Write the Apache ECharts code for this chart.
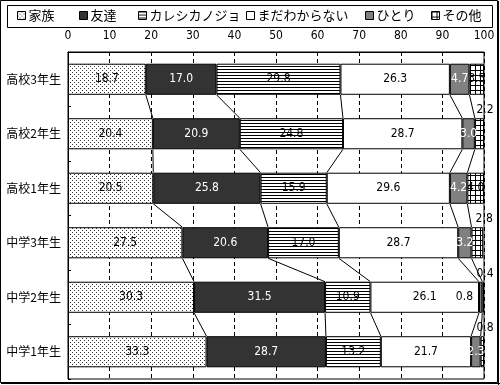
<!DOCTYPE html>
<html><head><meta charset="utf-8">
<script src="https://cdn.jsdelivr.net/npm/echarts@6/dist/echarts.min.js"></script>
<style>html,body{margin:0;padding:0;background:#fff}#c{width:500px;height:385px}</style>
</head><body><div id="c"></div>
<script>
// ---- data ----
const categories = ['高校3年生','高校2年生','高校1年生','中学3年生','中学2年生','中学1年生'];
const seriesNames = ['家族','友達','カレシカノジョ','まだわからない','ひとり','その他'];
const family  = [18.7, 20.4, 20.5, 27.5, 30.3, 33.3];
const friends = [17.0, 20.9, 25.8, 20.6, 31.5, 28.7];
const partner = [29.8, 24.8, 15.9, 17.0, 10.9, 13.2];
const unknown = [26.3, 28.7, 29.6, 28.7, 26.1, 21.7];
const alone   = [4.7, 3.0, 4.2, 3.2, 0.8, 2.3];
const other   = [3.5, 2.2, 4.0, 2.8, 0.4, 0.8];
const xMin = 0, xMax = 100, xStep = 10;

// ---- styling ----
const NUM = "'Liberation Sans Narrow','DejaVu Sans Condensed','Liberation Sans',sans-serif";
const JP = "'Noto Sans CJK JP',sans-serif";
function pat(w, h, draw) {
  const c = document.createElement('canvas'); c.width = w; c.height = h;
  const g = c.getContext('2d'); g.fillStyle = '#fff'; g.fillRect(0, 0, w, h);
  draw(g); return { image: c, repeat: 'repeat' };
}
const fills = [
  pat(4, 4, g => { g.fillStyle = '#333'; g.fillRect(0, 0, 1, 1); g.fillRect(2, 2, 1, 1); }),
  '#333333',
  pat(4, 3, g => { g.fillStyle = '#000'; g.fillRect(0, 0, 4, 1); }),
  '#ffffff',
  '#808080',
  pat(5, 5, g => { g.fillStyle = '#000'; g.fillRect(0, 0, 5, 1); g.fillRect(0, 0, 1, 5); })
];
const labelColors = ['#000', '#fff', '#000', '#000', '#fff', '#000'];
const allValues = [family, friends, partner, unknown, alone, other];

// per-item label overrides (placement only)
function itemLabel(s, i) {
  if (s === 5 && i !== 0 && i !== 2)
    return { position: ['100%', 0], align: 'center', verticalAlign: 'bottom', offset: [1, -2], color: '#000' };
  if (s === 4 && i === 4) return { position: 'left', distance: 6, color: '#000' };
  return null;
}

const barSeries = allValues.map((vals, s) => ({
  name: seriesNames[s], type: 'bar', stack: 'total', barCategoryGap: '43%',
  itemStyle: { color: fills[s], borderColor: '#000', borderWidth: 1 },
  label: { show: true, position: 'inside', color: labelColors[s], fontSize: 12, fontFamily: NUM,
           formatter: p => Number(p.value).toFixed(1) },
  emphasis: { disabled: true },
  data: vals.map((v, i) => { const l = itemLabel(s, i); return l ? { value: v, label: l } : v; })
}));

// connector lines between consecutive bars
const connData = [];
for (let i = 0; i < categories.length - 1; i++) {
  let a = 0, b = 0;
  for (let k = 0; k < 5; k++) {
    a += allValues[k][i]; b += allValues[k][i + 1];
    connData.push([a, i, b, i + 1]);
  }
}
const connSeries = {
  type: 'custom', name: 'conn', silent: true, z: 1,
  encode: { x: [0, 2], y: [1, 3] },
  renderItem: (params, api) => {
    const p1 = api.coord([api.value(0), api.value(1)]);
    const p2 = api.coord([api.value(2), api.value(3)]);
    const half = api.size([0, 1])[1] * 0.57 / 2;
    return { type: 'line', shape: { x1: p1[0], y1: p1[1] + half, x2: p2[0], y2: p2[1] - half },
             style: { stroke: '#000', lineWidth: 1 } };
  },
  data: connData
};

const legendX = [17, 79, 138, 246, 365, 431];
const legends = seriesNames.map((n, i) => ({
  data: [n], left: legendX[i], top: 9, padding: 0, itemWidth: 8, itemHeight: 8, itemGap: 0,
  icon: 'rect', selectedMode: false,
  itemStyle: { borderColor: '#000', borderWidth: 1 },
  textStyle: { fontFamily: JP, fontSize: 13, color: '#000', padding: [0, 0, 0, -2] }
}));

const chart = echarts.init(document.getElementById('c'), null, { renderer: 'canvas' });
chart.setOption({
  animation: false,
  backgroundColor: '#fff',
  graphic: [
    { type: 'rect', shape: { x: 0.5, y: 0.5, width: 497, height: 382 }, style: { fill: null, stroke: '#000', lineWidth: 1 }, silent: true },
    { type: 'line', shape: { x1: 498.5, y1: 1, x2: 498.5, y2: 385 }, style: { stroke: '#000', lineWidth: 1 }, silent: true },
    { type: 'line', shape: { x1: 1, y1: 383.5, x2: 500, y2: 383.5 }, style: { stroke: '#000', lineWidth: 1 }, silent: true },
    { type: 'rect', shape: { x: 7.5, y: 5.5, width: 485, height: 22 }, style: { fill: null, stroke: '#000', lineWidth: 1 }, silent: true }
  ],
  legend: legends,
  grid: { left: 68, right: 16, top: 52, bottom: 6, show: true, borderColor: '#000', borderWidth: 1, backgroundColor: 'transparent' },
  xAxis: {
    type: 'value', position: 'top', min: xMin, max: xMax, interval: xStep,
    axisLine: { show: true, lineStyle: { color: '#000' } },
    axisTick: { show: false },
    axisLabel: { color: '#000', fontSize: 12, fontFamily: NUM, margin: 10 },
    splitLine: { show: true, lineStyle: { color: '#000', type: [4, 3], width: 1 } }
  },
  yAxis: {
    type: 'category', inverse: true, data: categories,
    axisLine: { show: true, lineStyle: { color: '#000' } },
    axisTick: { show: true, inside: true, length: 3, lineStyle: { color: '#000' } },
    axisLabel: { color: '#000', fontSize: 12, fontFamily: JP, margin: 7 },
    splitLine: { show: false }
  },
  series: [connSeries, ...barSeries]
});
</script></body></html>
